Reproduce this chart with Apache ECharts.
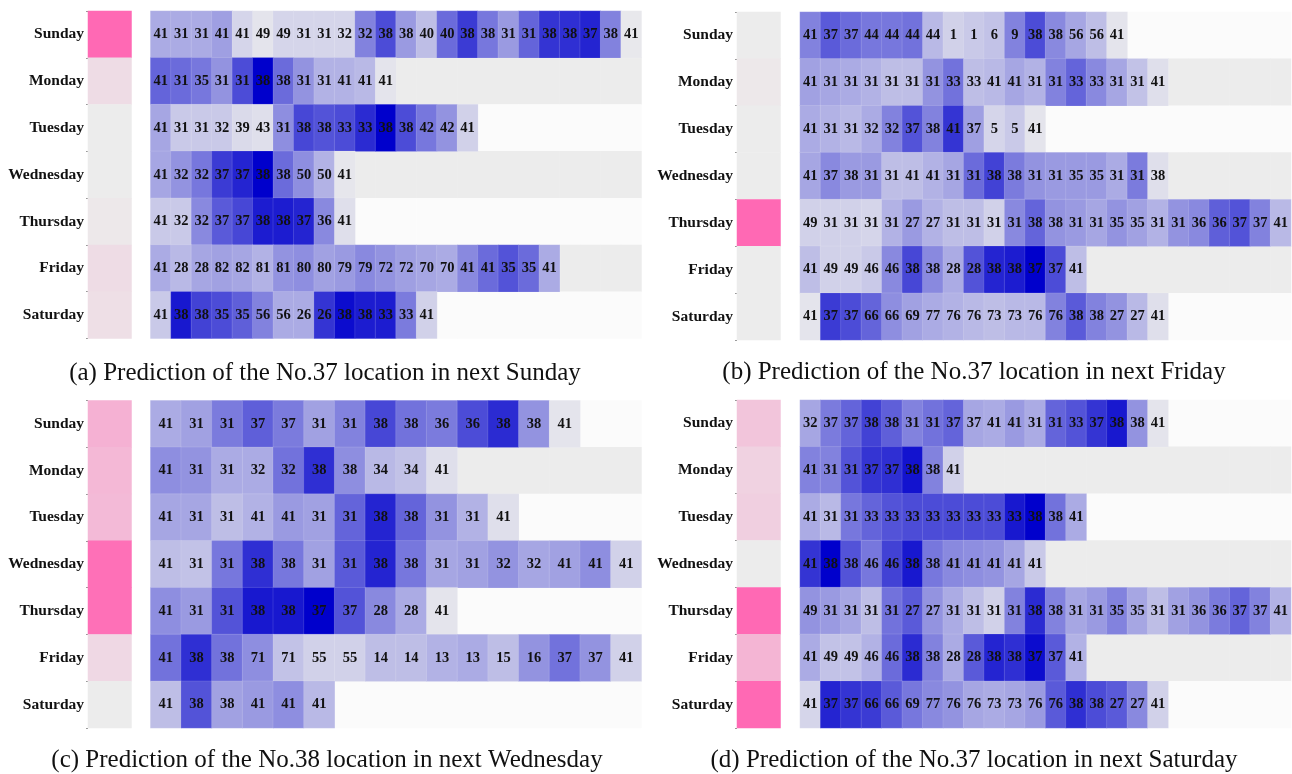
<!DOCTYPE html>
<html><head><meta charset="utf-8">
<script src="https://cdn.jsdelivr.net/npm/echarts@6/dist/echarts.min.js"></script>
<style>html,body{margin:0;padding:0;background:#fff}#c{width:1292px;height:774px}</style>
</head><body><div id="c"></div>
<script>
const days = ['Sunday','Monday','Tuesday','Wednesday','Thursday','Friday','Saturday'];

// Panel (a)
const aCols = 24;
const aAttn = [1.0, 0.12, 0.0, 0.0, 0.03, 0.12, 0.1];
const aLocs = [
 [41,31,31,41,41,49,49,31,31,32,32,38,38,40,40,38,38,31,31,38,38,37,38,41],
 [41,31,35,31,31,38,38,31,31,41,41,41],
 [41,31,31,32,39,43,31,38,38,33,33,38,38,42,42,41],
 [41,32,32,37,37,38,38,50,50,41],
 [41,32,32,37,37,38,38,37,36,41],
 [41,28,28,82,82,81,81,80,80,79,79,72,72,70,70,41,41,35,35,41],
 [41,38,38,35,35,56,56,26,26,38,38,33,33,41]
];
const aWts = [
 [0.28,0.28,0.28,0.33,0.1,0.04,0.1,0.1,0.1,0.1,0.45,0.68,0.35,0.2,0.55,0.75,0.5,0.35,0.58,0.78,0.8,0.85,0.45,0.02],
 [0.58,0.55,0.5,0.38,0.68,1.0,0.55,0.38,0.25,0.25,0.22,0.04],
 [0.3,0.15,0.15,0.15,0.08,0.06,0.4,0.7,0.65,0.68,0.82,1.0,0.68,0.5,0.38,0.12],
 [0.3,0.38,0.5,0.75,0.85,1.0,0.55,0.4,0.25,0.03],
 [0.15,0.15,0.42,0.62,0.7,0.88,0.88,0.85,0.42,0.06],
 [0.28,0.22,0.3,0.32,0.3,0.25,0.38,0.4,0.32,0.35,0.42,0.38,0.33,0.3,0.28,0.42,0.55,0.65,0.55,0.28],
 [0.15,0.9,0.72,0.68,0.6,0.45,0.28,0.28,0.78,0.95,0.88,0.88,0.48,0.12]
];

// Panel (b)
const bCols = 24;
const bAttn = [0.0, 0.03, 0.0, 0.0, 1.0, 0.0, 0.0];
const bLocs = [
 [41,37,37,44,44,44,44,1,1,6,9,38,38,56,56,41],
 [41,31,31,31,31,31,31,33,33,41,41,31,31,33,33,31,31,41],
 [41,31,31,32,32,37,38,41,37,5,5,41],
 [41,37,38,31,31,41,41,31,31,38,38,31,31,35,35,31,31,38],
 [49,31,31,31,31,27,27,31,31,31,31,38,38,31,31,35,35,31,31,36,36,37,37,41],
 [41,49,49,46,46,38,38,28,28,38,38,37,37,41],
 [41,37,37,66,66,69,77,76,76,73,73,76,76,38,38,27,27,41]
];
const bWts = [
 [0.45,0.62,0.55,0.5,0.5,0.52,0.22,0.12,0.15,0.18,0.45,0.68,0.42,0.3,0.2,0.04],
 [0.32,0.3,0.28,0.25,0.2,0.2,0.38,0.52,0.2,0.22,0.3,0.25,0.45,0.58,0.42,0.3,0.18,0.06],
 [0.28,0.25,0.22,0.28,0.45,0.65,0.45,0.78,0.33,0.1,0.15,0.04],
 [0.3,0.42,0.35,0.35,0.2,0.2,0.25,0.3,0.55,0.72,0.48,0.38,0.35,0.35,0.35,0.28,0.48,0.06],
 [0.12,0.12,0.12,0.1,0.25,0.35,0.25,0.2,0.2,0.12,0.42,0.58,0.38,0.35,0.3,0.38,0.32,0.25,0.38,0.42,0.6,0.65,0.45,0.22],
 [0.2,0.12,0.12,0.15,0.42,0.7,0.42,0.28,0.65,0.85,0.88,1.0,0.68,0.2],
 [0.04,0.75,0.68,0.58,0.4,0.32,0.28,0.25,0.22,0.2,0.22,0.22,0.45,0.62,0.45,0.38,0.22,0.06]
];

// Panel (c)
const cCols = 16;
const cAttn = [0.45, 0.4, 0.38, 0.95, 0.95, 0.15, 0.0];
const cLocs = [
 [41,31,31,37,37,31,31,38,38,36,36,38,38,41],
 [41,31,31,32,32,38,38,34,34,41],
 [41,31,31,41,41,31,31,38,38,31,31,41],
 [41,31,31,38,38,31,31,38,38,31,31,32,32,41,41,41],
 [41,31,31,38,38,37,37,28,28,41],
 [41,38,38,71,71,55,55,14,14,13,13,15,16,37,37,41],
 [41,38,38,41,41,41]
];
const cWts = [
 [0.28,0.32,0.48,0.6,0.48,0.32,0.45,0.7,0.52,0.48,0.68,0.82,0.38,0.04],
 [0.4,0.38,0.28,0.28,0.52,0.8,0.4,0.22,0.18,0.06],
 [0.3,0.3,0.2,0.25,0.35,0.32,0.58,0.85,0.58,0.38,0.25,0.06],
 [0.2,0.18,0.5,0.8,0.5,0.32,0.62,0.85,0.5,0.3,0.32,0.38,0.3,0.32,0.4,0.12],
 [0.4,0.35,0.65,0.9,0.9,1.0,0.65,0.42,0.28,0.04],
 [0.52,0.8,0.52,0.4,0.18,0.12,0.12,0.2,0.2,0.25,0.28,0.2,0.38,0.52,0.38,0.12],
 [0.2,0.65,0.32,0.35,0.4,0.22]
];

// Panel (d)
const dCols = 24;
const dAttn = [0.3, 0.2, 0.22, 0.0, 1.0, 0.42, 1.0];
const dLocs = [
 [32,37,37,38,38,31,31,37,37,41,41,31,31,33,37,38,38,41],
 [41,31,31,37,37,38,38,41],
 [41,31,31,33,33,33,33,33,33,33,33,38,38,41],
 [41,38,38,46,46,38,38,41,41,41,41,41],
 [49,31,31,31,31,27,27,31,31,31,31,38,38,31,31,35,35,31,31,36,36,37,37,41],
 [41,49,49,46,46,38,38,28,28,38,38,37,37,41],
 [41,37,37,66,66,69,77,76,76,73,73,76,76,38,38,27,27,41]
];
const dWts = [
 [0.3,0.48,0.58,0.72,0.6,0.45,0.52,0.58,0.3,0.28,0.35,0.28,0.58,0.65,0.78,0.9,0.38,0.04],
 [0.45,0.45,0.65,0.78,0.8,0.92,0.45,0.12],
 [0.28,0.22,0.5,0.58,0.65,0.68,0.68,0.68,0.68,0.68,0.9,1.0,0.52,0.28],
 [0.78,1.0,0.65,0.5,0.72,0.9,0.5,0.42,0.4,0.38,0.3,0.15],
 [0.38,0.35,0.3,0.2,0.52,0.62,0.38,0.28,0.2,0.12,0.45,0.82,0.45,0.3,0.35,0.45,0.3,0.2,0.32,0.38,0.48,0.58,0.45,0.25],
 [0.28,0.18,0.18,0.25,0.55,0.82,0.45,0.28,0.62,0.85,0.8,0.95,0.62,0.25],
 [0.1,0.85,0.78,0.75,0.62,0.5,0.42,0.38,0.3,0.28,0.3,0.35,0.62,0.8,0.68,0.62,0.42,0.12]
];

const captions = [
 '(a) Prediction of the No.37 location in next Sunday',
 '(b) Prediction of the No.37 location in next Friday',
 '(c) Prediction of the No.38 location in next Wednesday',
 '(d) Prediction of the No.37 location in next Saturday'
];

const panels = [
 {cols:aCols, attn:aAttn, locs:aLocs, wts:aWts, ax:88, mx:150.5, top:11, h:327.5, cx:325, cy:373},
 {cols:bCols, attn:bAttn, locs:bLocs, wts:bWts, ax:737, mx:800, top:12, h:328, cx:974, cy:372},
 {cols:cCols, attn:cAttn, locs:cLocs, wts:cWts, ax:88, mx:150.5, top:400.5, h:327.5, cx:327, cy:760},
 {cols:dCols, attn:dAttn, locs:dLocs, wts:dWts, ax:737, mx:800, top:400, h:328, cx:974, cy:760}
];

const SERIF = "'Liberation Serif','Times New Roman',serif";
const grid = [], xAxis = [], yAxis = [], series = [], graphic = [];
const mainIdx = [], attnIdx = [], padIdx = [];

panels.forEach((p, i) => {
  const gA = grid.length;
  grid.push({left:p.ax, top:p.top, width:43.5, height:p.h});
  grid.push({left:p.mx, top:p.top, width:491, height:p.h});
  const gM = gA + 1;
  xAxis.push({type:'category', gridIndex:gA, data:['w'], show:false});
  xAxis.push({type:'category', gridIndex:gM, data:Array.from({length:p.cols},(_,k)=>k), show:false});
  yAxis.push({type:'category', gridIndex:gA, data:days, inverse:true,
    axisLine:{show:false}, axisTick:{show:true, length:2, lineStyle:{color:'#999'}},
    axisLabel:{fontFamily:SERIF, fontWeight:'bold', fontSize:15.5, color:'#111', margin:4}});
  yAxis.push({type:'category', gridIndex:gM, data:days, inverse:true, show:false});

  const pad = [], main = [], att = [];
  p.locs.forEach((row, y) => {
    row.forEach((loc, x) => main.push([x, y, p.wts[y][x], loc]));
    for (let x = row.length; x < p.cols; x++) pad.push([x, y, y % 2]);
    att.push([0, y, p.attn[y]]);
  });
  padIdx.push(series.length);
  series.push({type:'heatmap', xAxisIndex:gM, yAxisIndex:gM, data:pad, silent:true, itemStyle:{borderWidth:0}});
  mainIdx.push(series.length);
  series.push({type:'heatmap', xAxisIndex:gM, yAxisIndex:gM, data:main, silent:true,
    itemStyle:{borderWidth:0.5, borderColor:'rgba(255,255,255,0.25)'},
    label:{show:true, formatter:(q)=>String(q.value[3]), fontFamily:SERIF, fontWeight:'bold', fontSize:14.5, color:'#111'}});
  attnIdx.push(series.length);
  series.push({type:'heatmap', xAxisIndex:gA, yAxisIndex:gA, data:att, silent:true, itemStyle:{borderWidth:0}});

  graphic.push({type:'text', x:p.cx, y:p.cy, style:{text:captions[i], fill:'#111',
    font:'25px ' + SERIF, textAlign:'center', textVerticalAlign:'middle'}});
});

const chart = echarts.init(document.getElementById('c'), null, {renderer:'canvas'});
chart.setOption({
  animation:false,
  backgroundColor:'#ffffff',
  grid, xAxis, yAxis, series, graphic,
  visualMap:[
    {type:'continuous', show:false, seriesIndex:mainIdx, dimension:2, min:0, max:1,
     inRange:{color:['#ededed','#0000cc']}},
    {type:'continuous', show:false, seriesIndex:attnIdx, dimension:2, min:0, max:1,
     inRange:{color:['#ececec','#ff69b4']}},
    {type:'piecewise', show:false, seriesIndex:padIdx, dimension:2,
     pieces:[{value:0, color:'#fbfbfb'},{value:1, color:'#ececec'}]}
  ]
});
</script></body></html>
